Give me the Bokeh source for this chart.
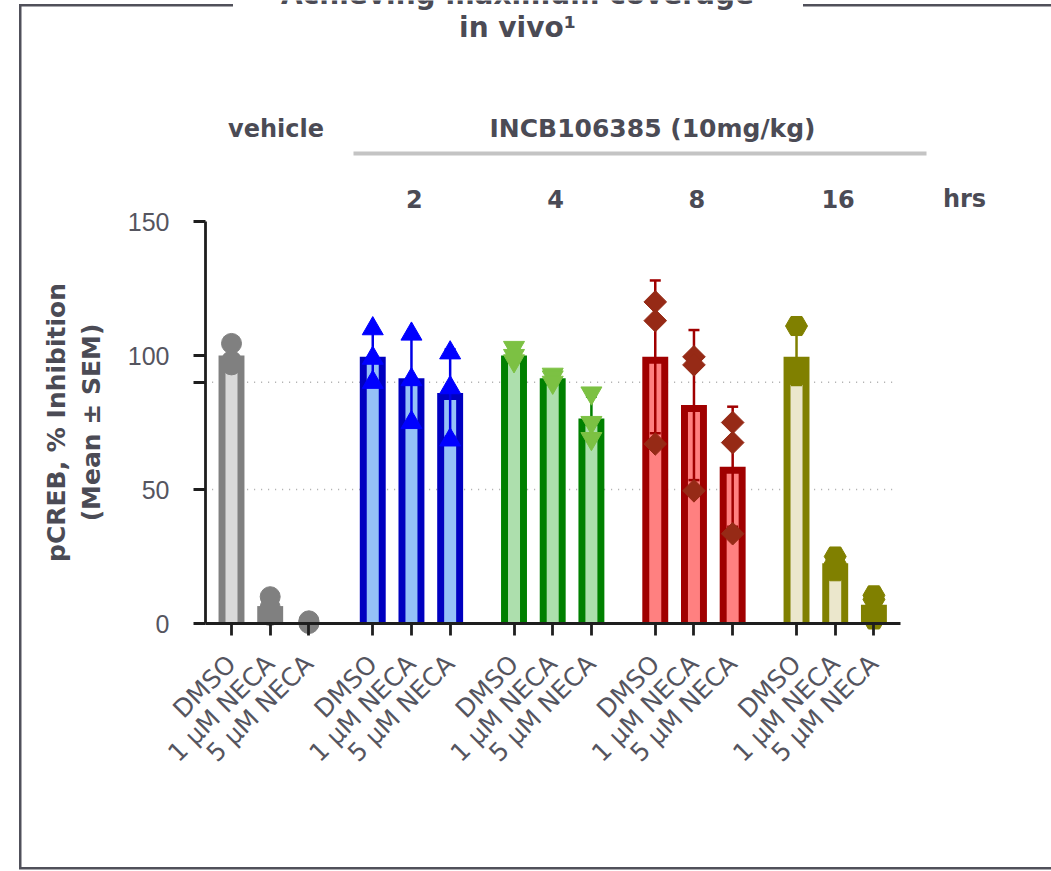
import math
from bokeh.plotting import figure
from bokeh.models import Range1d, FixedTicker, ColumnDataSource, Label
from bokeh.core.properties import value
from bokeh.embed import file_html
from bokeh.resources import INLINE

# ---------------- data ----------------
conditions = ["DMSO", "1 µM NECA", "5 µM NECA"]
group_labels = ["vehicle", "2", "4", "8", "16"]
hours_unit = "hrs"
treatment_label = "INCB106385 (10mg/kg)"
title_lines = ["Achieving maximum coverage", "in vivo¹"]
y_label = "pCREB, % Inhibition\n(Mean ± SEM)"

vehicle_mean = [100.0, 6.5, 0.5]
h2_mean = [99.5, 91.5, 86.0]
h4_mean = [100.0, 91.5, 76.5]
h8_mean = [99.5, 81.5, 58.5]
h16_mean = [99.5, 22.5, 7.0]

vehicle_sd = [4.3, 3.5, 0.5]
h2_sd = [10.0, 16.5, 16.3]
h4_sd = [2.5, 1.5, 8.2]
h8_sd = [28.5, 28.0, 22.4]
h16_sd = [10.5, 2.8, 5.0]

vehicle_pts = [[104.5, 98.0, 96.5], [10.0, 6.0, 3.0], [1.0, 0.5, 0.0]]
h2_pts = [[110.0, 99.0, 90.0], [108.0, 91.0, 75.0], [101.0, 88.0, 68.5]]
h4_pts = [[103.0, 100.0, 98.0], [93.0, 92.0, 90.0], [86.0, 75.0, 69.0]]
h8_pts = [[120.0, 113.0, 67.0], [99.5, 96.5, 49.5], [75.0, 67.5, 33.5]]
h16_pts = [[111.0, 94.5, 92.5], [25.0, 22.5, 19.5], [10.5, 9.0, 1.5]]

y_ticks = [0, 50, 90, 100, 150]
y_tick_labels = ["0", "50", "", "100", "150"]
grid_values = [50, 90]

means = [vehicle_mean, h2_mean, h4_mean, h8_mean, h16_mean]
sds = [vehicle_sd, h2_sd, h4_sd, h8_sd, h16_sd]
points = [vehicle_pts, h2_pts, h4_pts, h8_pts, h16_pts]

# ---------------- styling ----------------
TEXT = "#4b4b55"
TICKTXT = "#55555f"
AXIS = "#1e1e1e"
FRAME = "#50505a"
styles = [
    dict(edge="#808080", fill="#d9d9d9", err="#808080", mark="#808080", marker="circle", size=20, angle=0.0),
    dict(edge="#0000c0", fill="#95c1f7", err="#0000e6", mark="#0000ff", marker="triangle", size=21, angle=0.0),
    dict(edge="#008000", fill="#addfad", err="#008000", mark="#7cc143", marker="inverted_triangle", size=21, angle=0.0),
    dict(edge="#a00000", fill="#ff8080", err="#a00000", mark="#962a16", marker="square", size=16, angle=math.pi / 4),
    dict(edge="#808000", fill="#ebe7cc", err="#808000", mark="#808000", marker="hex", size=22, angle=0.0),
]

W, H = 1051, 871
AXIS_X_PX, AXIS_Y_PX = 205.0, 623.0   # where the y axis / x axis sit on the canvas
FRAME_BOTTOM_PX = 840                 # frame reaches below the x axis (labels live there)
PX_PER_X = 1.935
PX_PER_Y = 2.68
SLOT = 20          # spacing of bars inside a group (x units)
GROUP_STEP = 73    # spacing of groups (x units)
BAR_W = 13.4
INNER_W = 6.2
TOP_BORDER = 2.6   # y units of the dark bar border on top

frame_w = W
frame_h = FRAME_BOTTOM_PX
X0 = (0 - 231.0) / PX_PER_X
X1 = X0 + frame_w / PX_PER_X
Y0 = -(FRAME_BOTTOM_PX - AXIS_Y_PX) / PX_PER_Y
Y1 = AXIS_Y_PX / PX_PER_Y

p = figure(frame_width=frame_w, frame_height=frame_h,
           min_border_left=0, min_border_right=0, min_border_top=0,
           min_border_bottom=H - frame_h,
           x_range=Range1d(X0, X1), y_range=Range1d(Y0, Y1),
           toolbar_location=None, output_backend="svg")
p.outline_line_color = None
p.xgrid.visible = False
p.ygrid.visible = False
p.background_fill_color = None
p.border_fill_color = None

# slide frame drawn as CSS lines behind the transparent canvas
lines = [  # (left, top, width, height) in px
    (19, 4, 2.5, 865),
    (19, 866.5, W - 19, 2.5),
    (19, 4, 233 - 19, 2.5),
    (803, 4, W - 803, 2.5),
]
p.styles = {
    "background-color": "white",
    "background-image": ", ".join([f"linear-gradient({FRAME}, {FRAME})"] * len(lines)),
    "background-repeat": "no-repeat",
    "background-size": ", ".join(f"{w}px {h}px" for _, _, w, h in lines),
    "background-position": ", ".join(f"{l}px {t}px" for l, t, _, _ in lines),
}

# page pixel -> data helpers (for annotations only)
def px_x(px):
    return X0 + px / PX_PER_X

def px_y(py):
    return (AXIS_Y_PX - py) / PX_PER_Y

positions = []
for g in range(len(group_labels)):
    positions.append([g * GROUP_STEP + i * SLOT for i in range(len(conditions))])

first_x = positions[0][0]
last_x = positions[-1][-1]

# dotted reference lines
for gv in grid_values:
    p.segment(x0=[first_x - 10], y0=[gv], x1=[last_x + 10], y1=[gv],
              line_color="#a8a8a8", line_width=1.6, line_dash="1 6")

for g, st in enumerate(styles):
    xs = positions[g]
    m = means[g]
    sd = sds[g]
    outer = ColumnDataSource(dict(x=xs, top=m))
    inner = ColumnDataSource(dict(x=xs, top=[max(v - TOP_BORDER, 0) for v in m]))
    p.vbar(x="x", top="top", bottom=0, width=BAR_W, source=outer,
           fill_color=st["edge"], line_color=None)
    p.vbar(x="x", top="top", bottom=0, width=INNER_W, source=inner,
           fill_color=st["fill"], line_color=None)
    up = [a + b for a, b in zip(m, sd)]
    lo = [a - b for a, b in zip(m, sd)]
    p.segment(x0=xs, y0=lo, x1=xs, y1=up, line_color=st["err"], line_width=2.5)
    p.scatter(x=xs + xs, y=up + lo, marker="dash", size=11, line_color=st["err"], line_width=2.5)
    px, py = [], []
    for i, vals in enumerate(points[g]):
        for v in vals:
            px.append(xs[i])
            py.append(v)
    p.scatter(x=px, y=py, marker=st["marker"], size=st["size"], angle=st["angle"],
              fill_color=st["mark"], line_color=st["mark"], line_width=1)

# ---------------- axes ----------------
y_axis_at = px_x(AXIS_X_PX)

yax = p.yaxis[0]
yax.fixed_location = y_axis_at
yax.ticker = FixedTicker(ticks=y_ticks)
yax.major_label_overrides = {t: l for t, l in zip(y_ticks, y_tick_labels)}
yax.bounds = (0, 150)
yax.axis_line_color = AXIS
yax.axis_line_width = 2.8
yax.major_tick_line_color = AXIS
yax.major_tick_line_width = 2.8
yax.major_tick_out = 12
yax.major_tick_in = 0
yax.minor_tick_line_color = None
yax.major_label_text_font = "Liberation Sans"
yax.major_label_text_font_size = "25px"
yax.major_label_text_color = TICKTXT
yax.major_label_standoff = 24
yax.axis_label = y_label
yax.axis_label_text_font = "DejaVu Sans"
yax.axis_label_text_font_style = "bold"
yax.axis_label_text_font_size = "25px"
yax.axis_label_text_color = TEXT
yax.axis_label_standoff = 19

all_x = [x for grp in positions for x in grp]
all_labels = [conditions[k % len(conditions)] for k in range(len(all_x))]

xax = p.xaxis[0]
xax.fixed_location = 0
xax.ticker = FixedTicker(ticks=all_x)
xax.major_label_overrides = {x: l for x, l in zip(all_x, all_labels)}
xax.major_label_orientation = math.pi / 4
xax.bounds = (y_axis_at, px_x(900))
xax.axis_line_color = AXIS
xax.axis_line_width = 2.8
xax.major_tick_line_color = AXIS
xax.major_tick_line_width = 2.8
xax.major_tick_out = 12
xax.major_tick_in = 0
xax.minor_tick_line_color = None
xax.major_label_text_font = "DejaVu Sans"
xax.major_label_text_font_size = "25px"
xax.major_label_text_color = TICKTXT
xax.major_label_standoff = 24

# ---------------- header texts ----------------
def txt(x, y, s, size):
    p.text(x=[x], y=[y], text=[s], text_font=value("DejaVu Sans"), text_font_size=size,
           text_font_style="bold", text_color=TEXT, text_align="center", text_baseline="middle")

txt(positions[0][1] + 3, px_y(128), group_labels[0], "24px")
txt(px_x(652), px_y(128), treatment_label, "25px")
for g in range(1, 5):
    txt(positions[g][1] + 1.5, px_y(198), group_labels[g], "24px")
txt(px_x(964), px_y(198), hours_unit, "24px")
p.segment(x0=[px_x(353)], y0=[px_y(153)], x1=[px_x(926)], y1=[px_y(153)],
          line_color="#c4c4c4", line_width=4)

for line, mid in zip(title_lines, [-6, 27]):
    p.add_layout(Label(x=px_x(517), y=px_y(mid), text=line, text_font="DejaVu Sans",
                       text_font_style="bold", text_font_size="28px", text_color=TEXT,
                       text_align="center", text_baseline="middle"))

open("out.html", "w").write(file_html(p, INLINE))
